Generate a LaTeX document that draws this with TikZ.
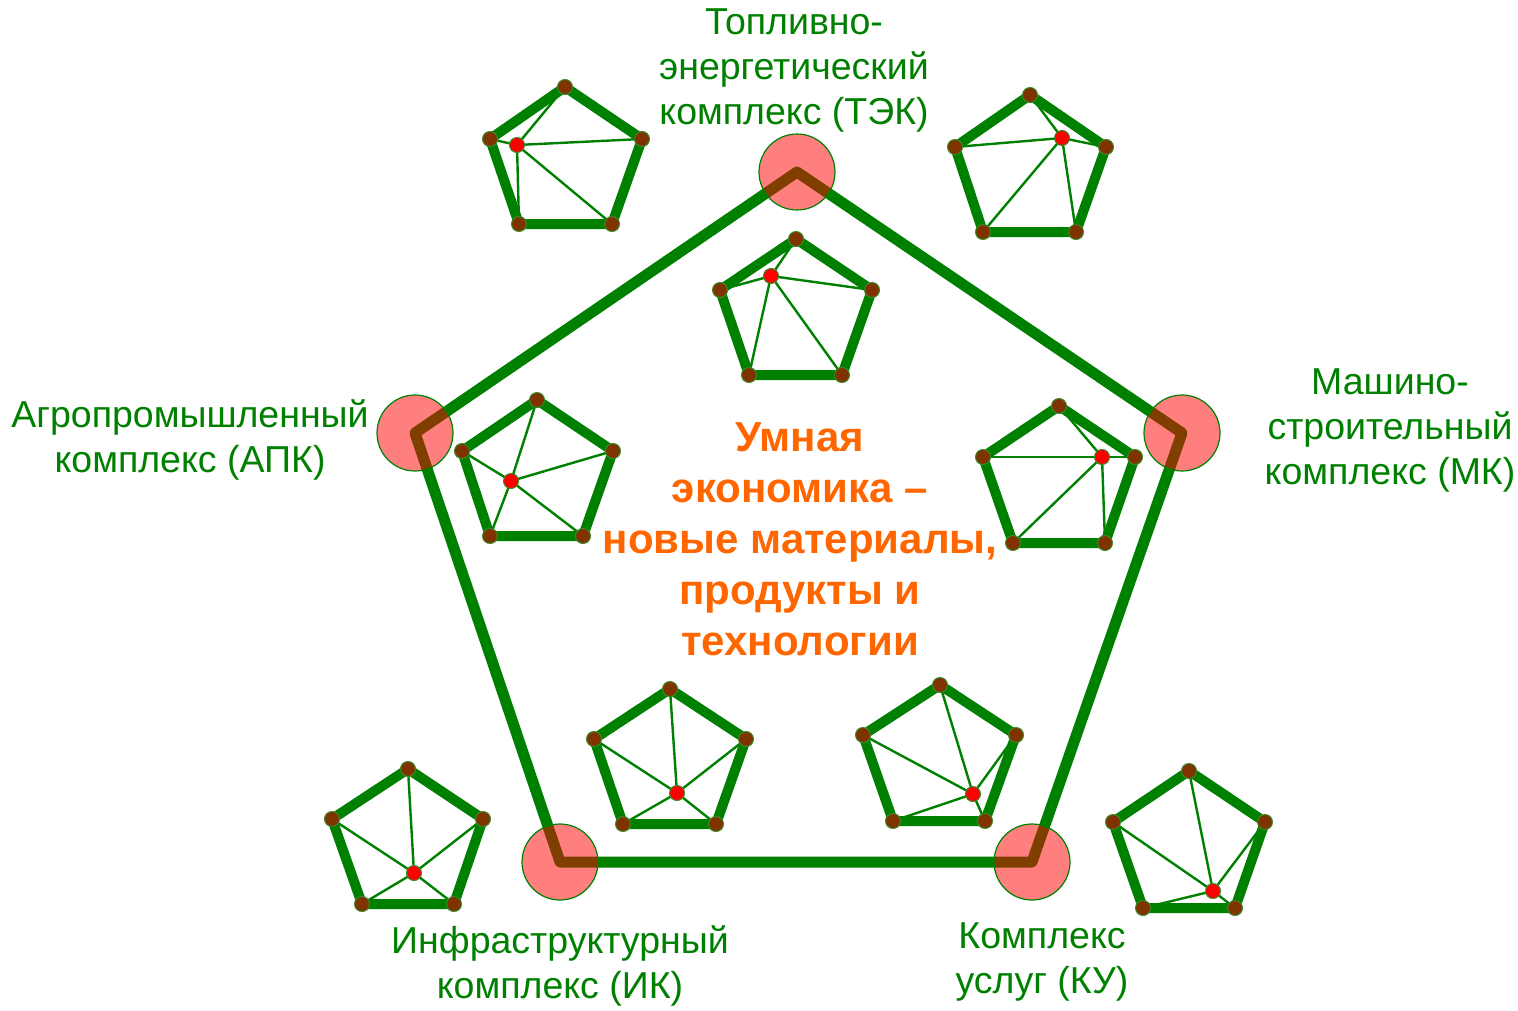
\documentclass[tikz,border=0pt]{standalone}
\usepackage{fontspec}
\setmainfont{Liberation Sans}
\definecolor{lg}{HTML}{008000}
\definecolor{dotbrown}{HTML}{7F3300}
\definecolor{dotedge}{HTML}{3A8A2A}
\definecolor{orng}{HTML}{FF6600}
\newcommand\spent[7]{%
  \coordinate (#1t) at (#2);
  \coordinate (#1r) at (#3);
  \coordinate (#1br) at (#4);
  \coordinate (#1bl) at (#5);
  \coordinate (#1l) at (#6);
  \coordinate (#1c) at (#7);
  \draw[pedge] (#1t)--(#1r)--(#1br)--(#1bl)--(#1l)--cycle;
  \foreach \v in {t,r,br,bl,l}{\draw[thinl] (#1c)--(#1\v);}
  \foreach \v in {t,r,br,bl,l}{\node[vdot] (#1\v dot) at (#1\v) {};}
  \node[rdot] (#1cdot) at (#1c) {};
}
\begin{document}
\begin{tikzpicture}[x=1pt,y=-1pt,
  bigedge/.style={draw=lg, line width=11pt, line join=round},
  pedge/.style={draw=lg, line width=10pt, line join=round},
  thinl/.style={draw=lg, line width=2.4pt},
  vdot/.style={circle, fill=dotbrown, draw=dotedge, line width=1pt, inner sep=0pt, minimum size=15pt},
  rdot/.style={circle, fill=red, draw=dotedge, line width=1pt, inner sep=0pt, minimum size=15pt},
  hub/.style={circle, fill=red, fill opacity=0.5, draw=lg, line width=1.2pt, inner sep=0pt, minimum size=76pt},
  lbl/.style={text=lg, align=center, font=\fontsize{37.5}{45}\selectfont},
  ctr/.style={text=orng, align=center, font=\bfseries\fontsize{42}{51}\selectfont}]
\useasboundingbox (0,0) rectangle (1518,1010);

% big pentagon
\coordinate (T) at (797,172);
\coordinate (R) at (1182,433);
\coordinate (BR) at (1032,862);
\coordinate (BL) at (560,862);
\coordinate (L) at (415,433);
\draw[bigedge] (T)--(R)--(BR)--(BL)--(L)--cycle;
\foreach \p in {T,R,BR,BL,L}{\node[hub] (hub\p) at (\p) {};}

% small pentagons
\spent{a}{565,87}{642,139}{612,224}{519,224}{490,139}{517,145}
\spent{b}{1030,95}{1106,147}{1076,232}{983,232}{955,147}{1062,138}
\spent{c}{796,239}{872,290}{842,375}{749,375}{720,290}{771,276}
\spent{d}{537,400}{613,451}{583,536}{490,536}{462,451}{511,481}
\spent{e}{1059,406}{1135,457}{1105,543}{1013,543}{983,457}{1102,457}
\spent{f}{670,689}{746,739}{716,824}{623,824}{594,739}{677,793}
\spent{g}{940,685}{1016,735}{985,821}{893,821}{863,735}{973,794}
\spent{h}{408,769}{483,819}{454,904}{362,904}{332,819}{414,873}
\spent{i}{1189,771}{1265,822}{1235,908}{1143,908}{1113,822}{1213,891}

% labels
\node[lbl] (ltek) at (794,70) {Топливно-\\энергетический\\комплекс (ТЭК)};
\node[lbl] (lapk) at (190,440) {Агропромышленный\\комплекс (АПК)};
\node[lbl] (lmk) at (1390,430) {Машино-\\строительный\\комплекс (МК)};
\node[lbl] (lik) at (560,966) {Инфраструктурный\\комплекс (ИК)};
\node[lbl] (lku) at (1042,962) {Комплекс\\услуг (КУ)};
\node[ctr] (center) at (800,539) {Умная\\экономика –\\новые материалы,\\продукты и\\технологии};
\end{tikzpicture}
\end{document}
